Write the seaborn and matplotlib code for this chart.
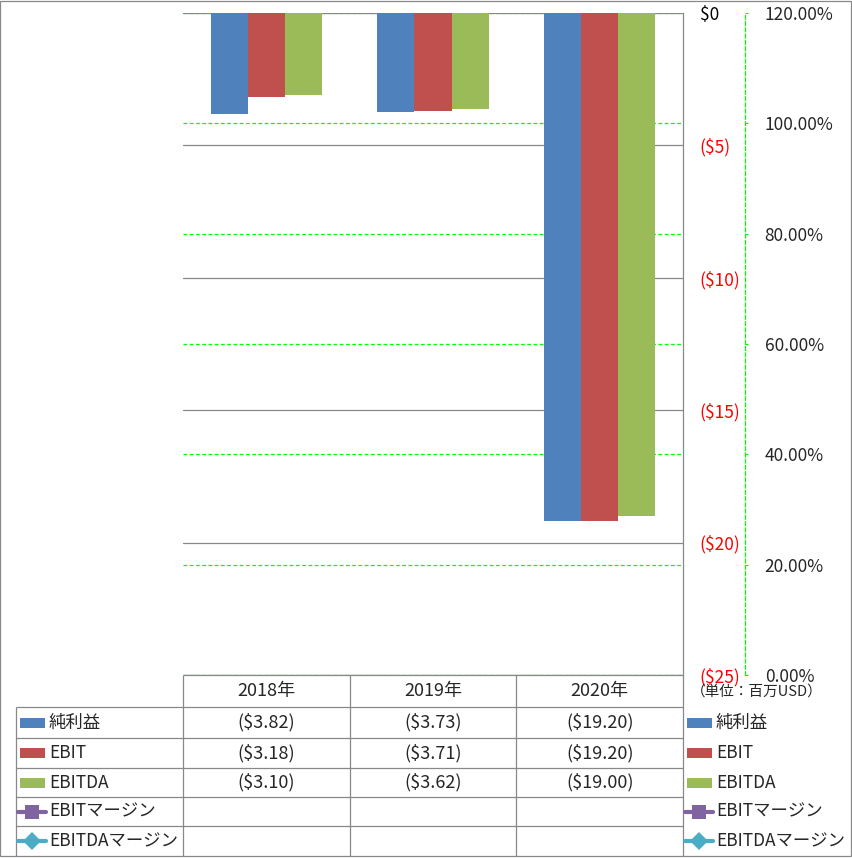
import numpy as np
import pandas as pd
import matplotlib
matplotlib.use('Agg')
import matplotlib.pyplot as plt
import seaborn as sns
from matplotlib.patches import Rectangle
from matplotlib.ticker import FuncFormatter

# Data (millions USD)
years = ['2018年', '2019年', '2020年']
bar_series = ['純利益', 'EBIT', 'EBITDA']
net_income = [-3.82, -3.73, -19.20]
ebit = [-3.18, -3.71, -19.20]
ebitda = [-3.10, -3.62, -19.00]
line_series = ['EBITマージン', 'EBITDAマージン']
ebit_margin = [None, None, None]
ebitda_margin = [None, None, None]
usd_ticks = [0, -5, -10, -15, -20, -25]
pct_ticks = [0, 0.2, 0.4, 0.6, 0.8, 1.0, 1.2]
unit_label = '（単位：百万USD）'

bar_colors = ['#4F81BD', '#C0504D', '#9BBB59']
line_colors = ['#8064A2', '#4BACC6']
line_markers = ['s', 'D']
gray = '#888888'
lime = '#00FF00'

sns.set_theme(style='white')
plt.rcParams['font.family'] = ['Noto Sans CJK JP', 'DejaVu Sans']

df = pd.DataFrame({
    'year': years * 3,
    'series': np.repeat(bar_series, len(years)),
    'value': net_income + ebit + ebitda,
})

W, H = 853, 858
fig = plt.figure(figsize=(W / 100, H / 100), dpi=100)
fig.patch.set_facecolor('white')


def box(x, y, w, h):
    return [x / W, 1 - (y + h) / H, w / W, h / H]


ax = fig.add_axes(box(183, 13, 500, 662))
ax2 = ax.twinx()

sns.barplot(df, x='year', y='value', hue='series', palette=bar_colors,
            width=2 / 3, gap=0, saturation=1, linewidth=0, legend=False, ax=ax)
ax.set_xlim(-0.5, 2.5)
ax.set_ylim(-25, 0)
ax.set_xlabel('')
ax.set_ylabel('')
ax.set_xticks([])

# primary $ axis, labels on the right
ax.yaxis.tick_right()
ax.set_yticks(usd_ticks)
ax.yaxis.set_major_formatter(FuncFormatter(
    lambda v, p: '$0' if v == 0 else f'(${abs(v):.0f})'))
ax.tick_params(axis='y', length=0, pad=12, labelsize=12.5)
for t, v in zip(ax.yaxis.get_major_ticks(), usd_ticks):
    t.label2.set_color('black' if v == 0 else '#FF0000')
ax.yaxis.grid(True, color=gray, lw=0.9)
ax.set_axisbelow(True)
for s in ['left', 'top', 'bottom']:
    ax.spines[s].set_visible(False)
ax.spines['right'].set_color(gray)
ax.spines['right'].set_linewidth(0.9)

# secondary % axis (62 px right of the plot)
ax2.set_ylim(0, 1.2)
ax2.set_yticks(pct_ticks)
ax2.yaxis.set_major_formatter(FuncFormatter(lambda v, p: f'{v * 100:.2f}%'))
ax2.tick_params(axis='y', length=2.2, color=lime, width=0.8, pad=12, labelsize=12.5)
ax2.yaxis.grid(True, color=lime, lw=0.9, ls=(0, (3, 2)))
for s in ['left', 'top', 'bottom']:
    ax2.spines[s].set_visible(False)
ax2.spines['right'].set_position(('outward', 62 * 0.72))
ax2.spines['right'].set_color(lime)
ax2.spines['right'].set_linestyle((0, (3, 2)))
ax2.spines['right'].set_linewidth(0.9)
ax.set_zorder(ax2.get_zorder() + 1)
ax.patch.set_visible(False)

# data table + legends
tax = fig.add_axes([0, 0, 1, 1])
tax.set_xlim(0, W)
tax.set_ylim(H, 0)
tax.axis('off')
tax.set_zorder(ax.get_zorder() + 1)

row_edges = [675, 707, 738, 768, 797, 826, 856]
col_edges = [183, 183 + 500 / 3, 183 + 1000 / 3, 683]
lkw = dict(color=gray, lw=0.9, solid_capstyle='butt')

tax.plot([183, 683], [row_edges[0]] * 2, **lkw)
for y in row_edges[1:-1]:
    tax.plot([16, 683], [y, y], **lkw)
tax.plot([16, 16], [row_edges[1], row_edges[-1]], **lkw)
for x in col_edges:
    tax.plot([x, x], [row_edges[0], row_edges[-1]], **lkw)
tax.add_patch(Rectangle((0.5, 0.5), 851, 855.5, fill=False, ec=gray, lw=0.9))

centers = [(col_edges[i] + col_edges[i + 1]) / 2 for i in range(3)]
for x, yr in zip(centers, years):
    tax.text(x, (row_edges[0] + row_edges[1]) / 2, yr, ha='center', va='center', fontsize=13)

rows = [net_income, ebit, ebitda, ebit_margin, ebitda_margin]
names = bar_series + line_series
for r, (name, vals) in enumerate(zip(names, rows)):
    yc = (row_edges[r + 1] + row_edges[r + 2]) / 2
    for x, v in zip(centers, vals):
        if v is not None:
            txt = f'(${abs(v):.2f})' if v < 0 else f'${v:.2f}'
            tax.text(x, yc, txt, ha='center', va='center', fontsize=13)
    for x0 in (20, 687):
        if r < 3:
            tax.add_patch(Rectangle((x0, yc - 5), 25, 10, color=bar_colors[r], lw=0))
        else:
            c = line_colors[r - 3]
            tax.plot([x0 - 2, x0 + 26], [yc, yc], color=c, lw=3, solid_capstyle='round')
            tax.plot([x0 + 12.5], [yc], marker=line_markers[r - 3], color=c,
                     ms=10 if r == 3 else 9, mew=0)
        tax.text(x0 + 29, yc, name, ha='left', va='center', fontsize=12.5)

tax.text(757, 692, unit_label, ha='center', va='center', fontsize=10.5)

fig.savefig('out.png', dpi=100, facecolor='white')
